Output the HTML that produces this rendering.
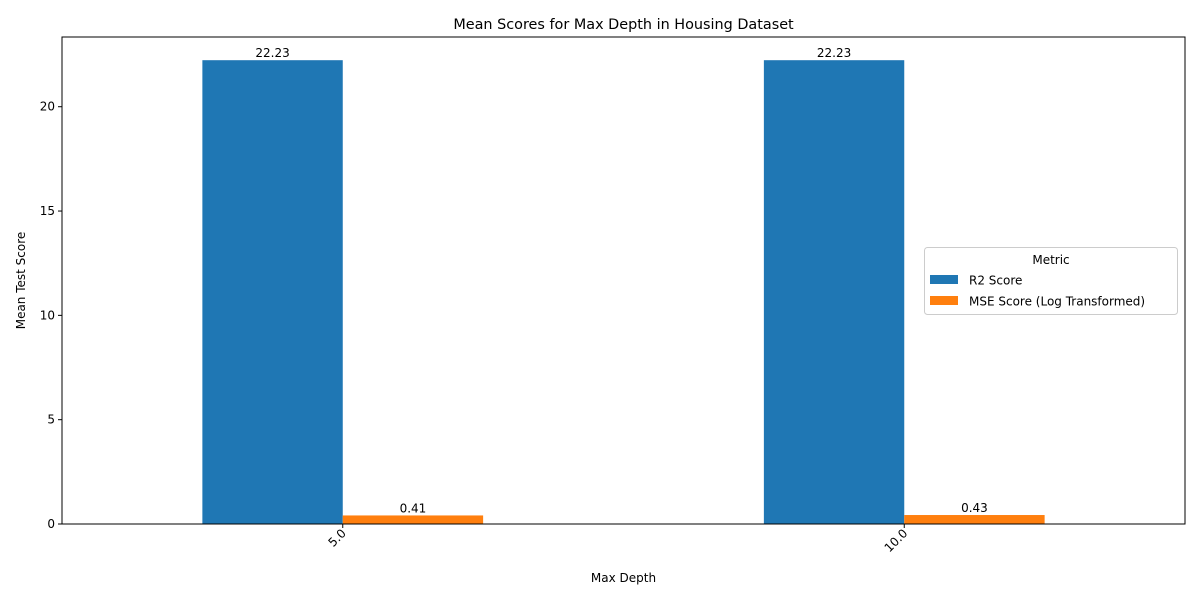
<!DOCTYPE html>
<html><head><meta charset="utf-8"><style>
body{margin:0;background:#fff}
svg{display:block;font-family:"DejaVu Sans","Liberation Sans",sans-serif}
</style></head><body>
<svg id="chart" width="1200" height="600" viewBox="0 0 1200 600">
<rect width="1200" height="600" fill="#fff"/>
<text x="623.5" y="29" text-anchor="middle" font-size="14.4">Mean Scores for Max Depth in Housing Dataset</text>
<g id="bars"></g>
<g id="yaxis"></g>
<g id="xaxis"></g>
<rect x="62" y="37" width="1123" height="487" fill="none" stroke="#000" stroke-width="1"/>
<text x="623.5" y="582" text-anchor="middle" font-size="12">Max Depth</text>
<text transform="translate(25,280.5) rotate(-90)" text-anchor="middle" font-size="12">Mean Test Score</text>
<g>
<rect x="924.5" y="247.5" width="253" height="67" rx="3" fill="#fff" fill-opacity="0.8" stroke="#ccc"/>
<text x="1051" y="264" text-anchor="middle" font-size="12">Metric</text>
<g><rect x="930" y="275" width="28" height="9" fill="#1f77b4"/><text x="969" y="284.5" font-size="12">R2 Score</text></g>
<g><rect x="930" y="296" width="28" height="9" fill="#ff7f0e"/><text x="969" y="305.5" font-size="12">MSE Score (Log Transformed)</text></g>
</g>
</svg>
<script>
const categories = ["5.0", "10.0"];
const r2Values = [22.23, 22.23];
const mseValues = [0.41, 0.43];
const yTicks = [0, 5, 10, 15, 20];

const NS = "http://www.w3.org/2000/svg";
const L = 62, R = 1185, T = 37, B = 524;
const yMax = Math.max(...r2Values, ...mseValues) * 1.05;
const y = v => B - v / yMax * (B - T);
const unit = (R - L) / categories.length;
const x = i => L + unit * (i + 0.5);
const bw = unit * 0.25;
function mk(tag, attrs, parent) { const e = document.createElementNS(NS, tag); for (const k in attrs) e.setAttribute(k, attrs[k]); parent.appendChild(e); return e; }
const bars = document.getElementById('bars'), ya = document.getElementById('yaxis'), xa = document.getElementById('xaxis');
const series = [{vals: r2Values, color: "#1f77b4", name: "r2"}, {vals: mseValues, color: "#ff7f0e", name: "mse"}];
series.forEach((s, si) => {
  s.vals.forEach((v, i) => {
    const x0 = x(i) - bw + si * bw;
    const r = mk('rect', {x: x0, y: y(v), width: bw, height: B - y(v), fill: s.color}, bars);
    
    
    const t = mk('text', {x: x0 + bw / 2, y: y(v) - 3, 'text-anchor': 'middle', 'font-size': 12}, bars);
    t.textContent = v.toFixed(2);
    
    
  });
});
yTicks.forEach(v => {
  const g = mk('g', {}, ya);
  
  
  mk('line', {x1: L - 4, x2: L, y1: y(v), y2: y(v), stroke: '#000'}, g);
  const t = mk('text', {x: L - 7, y: y(v) + 4, 'text-anchor': 'end', 'font-size': 12}, g);
  t.textContent = v;
});
categories.forEach((c, i) => {
  const g = mk('g', {}, xa);
  
  
  mk('line', {x1: x(i), x2: x(i), y1: B, y2: B + 4, stroke: '#000'}, g);
  const t = mk('text', {transform: `translate(${x(i) + 4},${B + 10}) rotate(-45)`, 'text-anchor': 'end', 'font-size': 12}, g);
  t.textContent = c;
});
</script>
</body></html>
